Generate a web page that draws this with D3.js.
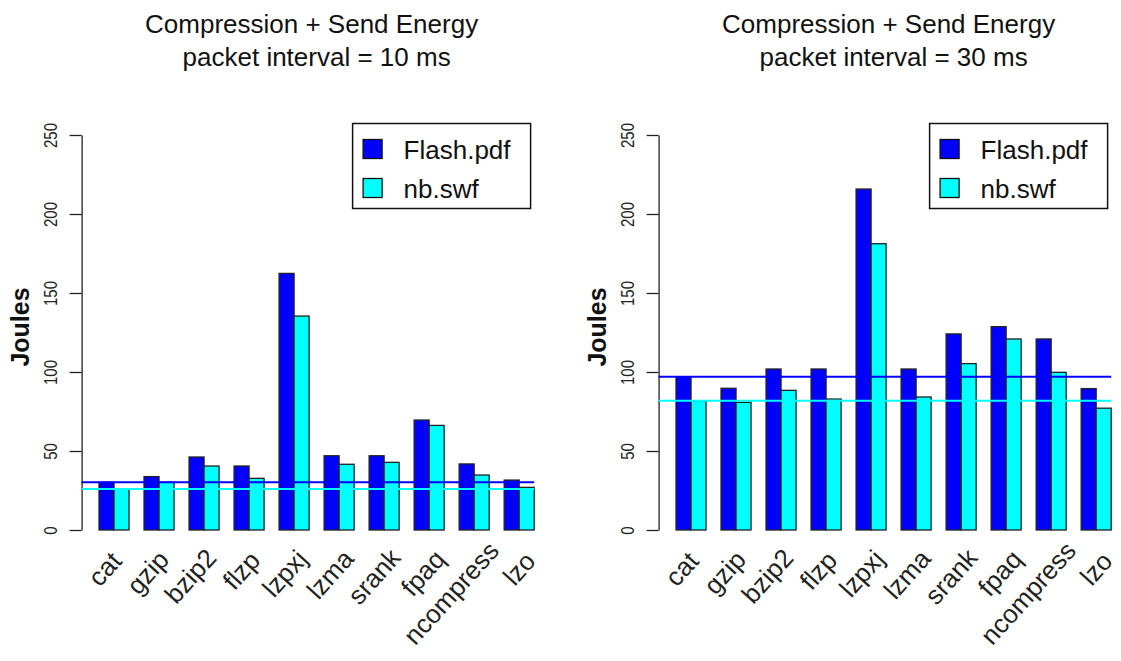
<html>
<head>
  <title>Compression + Send Energy</title>
  <script src="https://cdn.jsdelivr.net/npm/d3@7"></script>
  <style>
    body { margin: 0; background: #fff; }
    svg text { font-family: "Liberation Sans", Arial, sans-serif; fill: #111; }
  </style>
</head>
<body>
  <div id="vis"></div>

  <script type="text/javascript">

    var categories = ["cat", "gzip", "bzip2", "flzp", "lzpxj", "lzma", "srank", "fpaq", "ncompress", "lzo"];
    var seriesNames = ["Flash.pdf", "nb.swf"];
    var seriesColors = ["#0000ff", "#00ffff"];

    var flash10 = [30.2, 33.8, 46.2, 40.5, 162.4, 47.0, 47.0, 69.6, 41.8, 31.6];
    var nb10    = [25.9, 30.2, 40.5, 32.7, 135.4, 41.6, 42.8, 66.2, 34.8, 27.0];
    var flash30 = [97.0, 89.7, 101.9, 101.9, 215.8, 101.9, 124.1, 128.7, 120.9, 89.5];
    var nb30    = [81.8, 80.8, 88.4, 82.9, 181.2, 84.2, 105.3, 120.9, 99.8, 77.1];

    var yTicks = [0, 50, 100, 150, 200, 250];
    var titles10 = ["Compression + Send Energy", "packet interval = 10 ms"];
    var titles30 = ["Compression + Send Energy", "packet interval = 30 ms"];

    var width = 1121, height = 661;
    var plotW = 470, baseY = 530, topY = 135;

    var svg = d3.select('#vis')
                .append('svg')
                  .attr('width', width)
                  .attr('height', height);

    function drawPanel(left, flash, nb, titleLines) {
      var g = svg.append('g')
                 .attr('transform', 'translate(' + left + ',0)');

      var rows = categories.map(function(c, i) {
        return {name: c, values: [flash[i], nb[i]]};
      });

      var x0 = d3.scaleBand().domain(categories).range([0, plotW])
                 .paddingInner(1/3).paddingOuter(0.387);
      var x1 = d3.scaleBand().domain(seriesNames).range([0, x0.bandwidth()]);
      var y = d3.scaleLinear().domain([0, 250]).range([baseY, topY]);

      // label positions run a little wider than the bar groups
      var firstC = x0(categories[0]) + x0.bandwidth() / 2;
      var lastC = x0(categories[categories.length - 1]) + x0.bandwidth() / 2;
      var xl = d3.scalePoint().domain(categories).range([firstC + 5.5, lastC + 14.5]);

      // y axis, labels parallel to axis like R
      var yAxis = d3.axisLeft(y).tickValues(yTicks).tickSize(12).tickSizeOuter(0);
      var ax = g.append('g').attr('class', 'y-axis').call(yAxis);
      ax.attr('font-size', null);
      ax.select('.domain').attr('stroke', '#222').attr('stroke-width', 1.3);
      ax.selectAll('line').attr('stroke', '#222').attr('stroke-width', 1.3);
      ax.selectAll('text')
        .attr('x', null).attr('dy', null)
        .attr('text-anchor', 'middle')
        .attr('transform', 'translate(-24.5,0) scale(1.2,1) rotate(-90)')
        .style('font-size', '15px')
        .style('fill', '#222');

      // bars
      var groups = g.selectAll('g.grp')
                    .data(rows)
                    .enter().append('g')
                      .attr('class', 'grp')
                      .attr('transform', function(d) { return 'translate(' + x0(d.name) + ',0)'; });

      groups.selectAll('rect')
            .data(function(d) { return d.values; })
            .enter().append('rect')
              .attr('x', function(d, i) { return x1(seriesNames[i]); })
              .attr('y', function(d) { return y(d); })
              .attr('width', x1.bandwidth())
              .attr('height', function(d) { return baseY - y(d); })
              .attr('fill', function(d, i) { return seriesColors[i]; })
              .attr('stroke', '#222')
              .attr('stroke-width', 1.3);

      // reference lines at the "cat" (no compression) level
      var lineEnd = x0(categories[categories.length - 1]) + x0.bandwidth();
      [flash[0], nb[0]].forEach(function(v, i) {
        g.append('line')
          .attr('x1', 0).attr('x2', lineEnd)
          .attr('y1', y(v)).attr('y2', y(v))
          .attr('stroke', seriesColors[i])
          .attr('stroke-width', 2);
      });

      // rotated category labels
      g.selectAll('text.xlab')
        .data(categories)
        .enter().append('text')
          .attr('class', 'xlab')
          .attr('text-anchor', 'end')
          .attr('transform', function(d) {
            return 'translate(' + xl(d) + ',' + (baseY + 36) + ') rotate(-48)';
          })
          .style('font-size', '26px')
          .style('fill', '#222')
          .text(function(d) { return d; })
          .attr('dx', function() { return 0.15 * this.getComputedTextLength(); });

      // y label
      g.append('text')
        .attr('text-anchor', 'middle')
        .attr('transform', 'translate(-52.3,' + 327 + ') rotate(-90)')
        .style('font-size', '25px')
        .style('font-weight', 'bold')
        .text('Joules');

      // title
      g.append('text')
        .attr('text-anchor', 'middle')
        .attr('x', 230).attr('y', 33)
        .style('font-size', '26px')
        .text(titleLines[0]);
      g.append('text')
        .attr('text-anchor', 'middle')
        .attr('x', 235).attr('y', 66)
        .style('font-size', '26px')
        .text(titleLines[1]);

      // legend
      var lg = g.append('g').attr('transform', 'translate(271,123.5)');
      lg.append('rect')
        .attr('width', 178).attr('height', 85)
        .attr('fill', '#fff').attr('stroke', '#111').attr('stroke-width', 1.5);
      seriesNames.forEach(function(s, i) {
        lg.append('rect')
          .attr('x', 10.5).attr('y', 16 + i * 39)
          .attr('width', 19).attr('height', 19)
          .attr('fill', seriesColors[i])
          .attr('stroke', '#111').attr('stroke-width', 1.3);
        lg.append('text')
          .attr('x', 51).attr('y', 35 + i * 39)
          .style('font-size', '26px')
          .text(s);
      });
    }

    drawPanel(81.6, flash10, nb10, titles10);
    drawPanel(658.6, flash30, nb30, titles30);

  </script>
</body>
</html>
